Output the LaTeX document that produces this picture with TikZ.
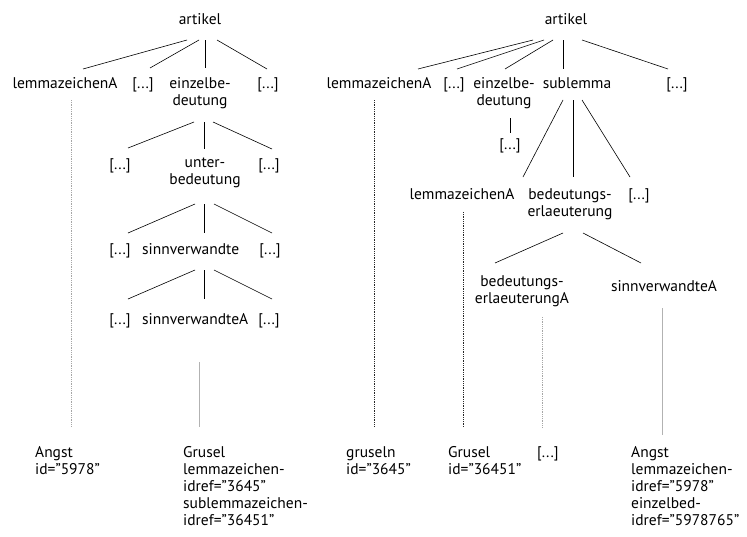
\documentclass[tikz,border=0pt]{standalone}
\usepackage{fontspec}
\setmainfont{PT Sans}
\tikzset{
  lbl/.style={inner sep=0pt,anchor=north,align=center,font=\fontsize{15.5}{17}\selectfont},
  info/.style={inner sep=0pt,anchor=north west,align=left,font=\fontsize{15.5}{17}\selectfont},
  edge/.style={line width=0.6pt},
  refline/.style={line width=0.4pt,black!85,dash pattern=on 0.6pt off 1.2pt},
  refgray/.style={line width=0.5pt,gray!70,dash pattern=on 0.6pt off 1.2pt},
  refsolid/.style={line width=0.6pt,gray!60}
}
\begin{document}
\begin{tikzpicture}[x=1pt,y=-1pt]
\useasboundingbox (0,0) rectangle (747,536);
% left tree
\node[lbl] (artikelL) at (200,13) {artikel};
\node[lbl] (lemmaL) at (65,77) {lemmazeichenA};
\node[lbl] (dotsL1) at (143,77) {[...]};
\node[lbl] (einzelL) at (200,77) {einzelbe-\\deutung};
\node[lbl] (dotsL2) at (268,77) {[...]};
\node[lbl] (dotsL3) at (120,158) {[...]};
\node[lbl] (unterL) at (205,158) {unter-\\bedeutung};
\node[lbl] (dotsL4) at (269,158) {[...]};
\node[lbl] (dotsL5) at (120,243) {[...]};
\node[info] (sinnL) at (142,243) {sinnverwandte};
\node[lbl] (dotsL6) at (270,243) {[...]};
\node[info] (sinnAL) at (142,313) {sinnverwandteA};
\node[lbl] (dotsL7) at (120,313) {[...]};
\node[lbl,fill=white,inner xsep=1pt] (dotsL8) at (269,313) {[...]};
\node[info] (angstL) at (35,446) {Angst\\id="5978"};
\node[info] (gruselL) at (183,446) {Grusel\\lemmazeichen-\\idref="3645"\\sublemmazeichen-\\idref="36451"};
\draw[edge] ([shift={(-13,27)}]artikelL.north) -- ([shift={(18,-8)}]lemmaL.north);
\draw[edge] ([shift={(-1,27)}]artikelL.north) -- ([shift={(7,-9)}]dotsL1.north);
\draw[edge] ([shift={(5,27)}]artikelL.north) -- ([shift={(5,-9)}]einzelL.north);
\draw[edge] ([shift={(17,27)}]artikelL.north) -- ([shift={(-1,-8)}]dotsL2.north);
\draw[edge] ([shift={(-6,45)}]einzelL.north) -- ([shift={(8,-10)}]dotsL3.north);
\draw[edge] ([shift={(4,45)}]einzelL.north) -- ([shift={(-1,-9)}]unterL.north);
\draw[edge] ([shift={(13,45)}]einzelL.north) -- ([shift={(3,-9)}]dotsL4.north);
\draw[edge] ([shift={(-10,46)}]unterL.north) -- ([shift={(8,-10)}]dotsL5.north);
\draw[edge] ([shift={(-1,46)}]unterL.north) -- ([shift={(62,-10)}]sinnL.north west);
\draw[edge] ([shift={(9,46)}]unterL.north) -- ([shift={(2,-10)}]dotsL6.north);
\draw[edge] ([shift={(53,27)}]sinnL.north west) -- ([shift={(8,-14)}]dotsL7.north);
\draw[edge] ([shift={(62,27)}]sinnL.north west) -- ([shift={(62,-14)}]sinnAL.north west);
\draw[edge] ([shift={(72,27)}]sinnL.north west) -- ([shift={(3,-14)}]dotsL8.north);
\draw[refgray] ([shift={(6,23)}]lemmaL.north) -- ([shift={(36,-19)}]angstL.north west);
\draw[refsolid] ([shift={(57,49)}]sinnAL.north west) -- ([shift={(16,-19)}]gruselL.north west);
% right tree
\node[lbl] (artikelR) at (566,13) {artikel};
\node[lbl] (lemmaR1) at (379,77) {lemmazeichenA};
\node[lbl] (dotsR1) at (454,77) {[...]};
\node[lbl] (einzelR) at (504,77) {einzelbe-\\deutung};
\node[lbl] (sublemma) at (577,77) {sublemma};
\node[lbl] (dotsR2) at (677,77) {[...]};
\node[lbl] (dotsR3) at (510,138) {[...]};
\node[lbl] (lemmaR2) at (462,188) {lemmazeichenA};
\node[lbl] (bedeutR) at (570,188) {bedeutungs-\\erlaeuterung};
\node[lbl] (dotsR4) at (639,188) {[...]};
\node[lbl] (bedeutAR) at (522,275) {bedeutungs-\\erlaeuterungA};
\node[lbl] (sinnAR) at (664,280) {sinnverwandteA};
\node[info] (gruseln) at (346,446) {gruseln\\id="3645"};
\node[info] (gruselR) at (448,446) {Grusel\\id="36451"};
\node[info] (dotsB) at (537,446) {[...]};
\node[info] (angstR) at (631,446) {Angst\\lemmazeichen-\\idref="5978"\\einzelbed-\\idref="5978765"};
\draw[edge] ([shift={(-33,27)}]artikelR.north) -- ([shift={(39,-8)}]lemmaR1.north);
\draw[edge] ([shift={(-22,27)}]artikelR.north) -- ([shift={(3,-8)}]dotsR1.north);
\draw[edge] ([shift={(-13,27)}]artikelR.north) -- ([shift={(1,-8)}]einzelR.north);
\draw[edge] ([shift={(-3,27)}]artikelR.north) -- ([shift={(-14,-8)}]sublemma.north);
\draw[edge] ([shift={(16,27)}]artikelR.north) -- ([shift={(-9,-8)}]dotsR2.north);
\draw[edge] ([shift={(6,41)}]einzelR.north) -- ([shift={(0,-5)}]dotsR3.north);
\draw[edge] ([shift={(-14,23)}]sublemma.north) -- ([shift={(61,-11)}]lemmaR2.north);
\draw[edge] ([shift={(-4,23)}]sublemma.north) -- ([shift={(3,-11)}]bedeutR.north);
\draw[edge] ([shift={(5,23)}]sublemma.north) -- ([shift={(-9,-11)}]dotsR4.north);
\draw[edge] ([shift={(-7,45)}]bedeutR.north) -- ([shift={(-27,-12)}]bedeutAR.north);
\draw[edge] ([shift={(13,45)}]bedeutR.north) -- ([shift={(-23,-17)}]sinnAR.north);
\draw[refline] ([shift={(-5,23)}]lemmaR1.north) -- ([shift={(28,-19)}]gruseln.north west);
\draw[refline] ([shift={(1,24)}]lemmaR2.north) -- ([shift={(15,-19)}]gruselR.north west);
\draw[refgray] ([shift={(20,42)}]bedeutAR.north) -- ([shift={(5,-19)}]dotsB.north west);
\draw[refsolid] ([shift={(-2,28)}]sinnAR.north) -- ([shift={(31,-11)}]angstR.north west);
\end{tikzpicture}
\end{document}
